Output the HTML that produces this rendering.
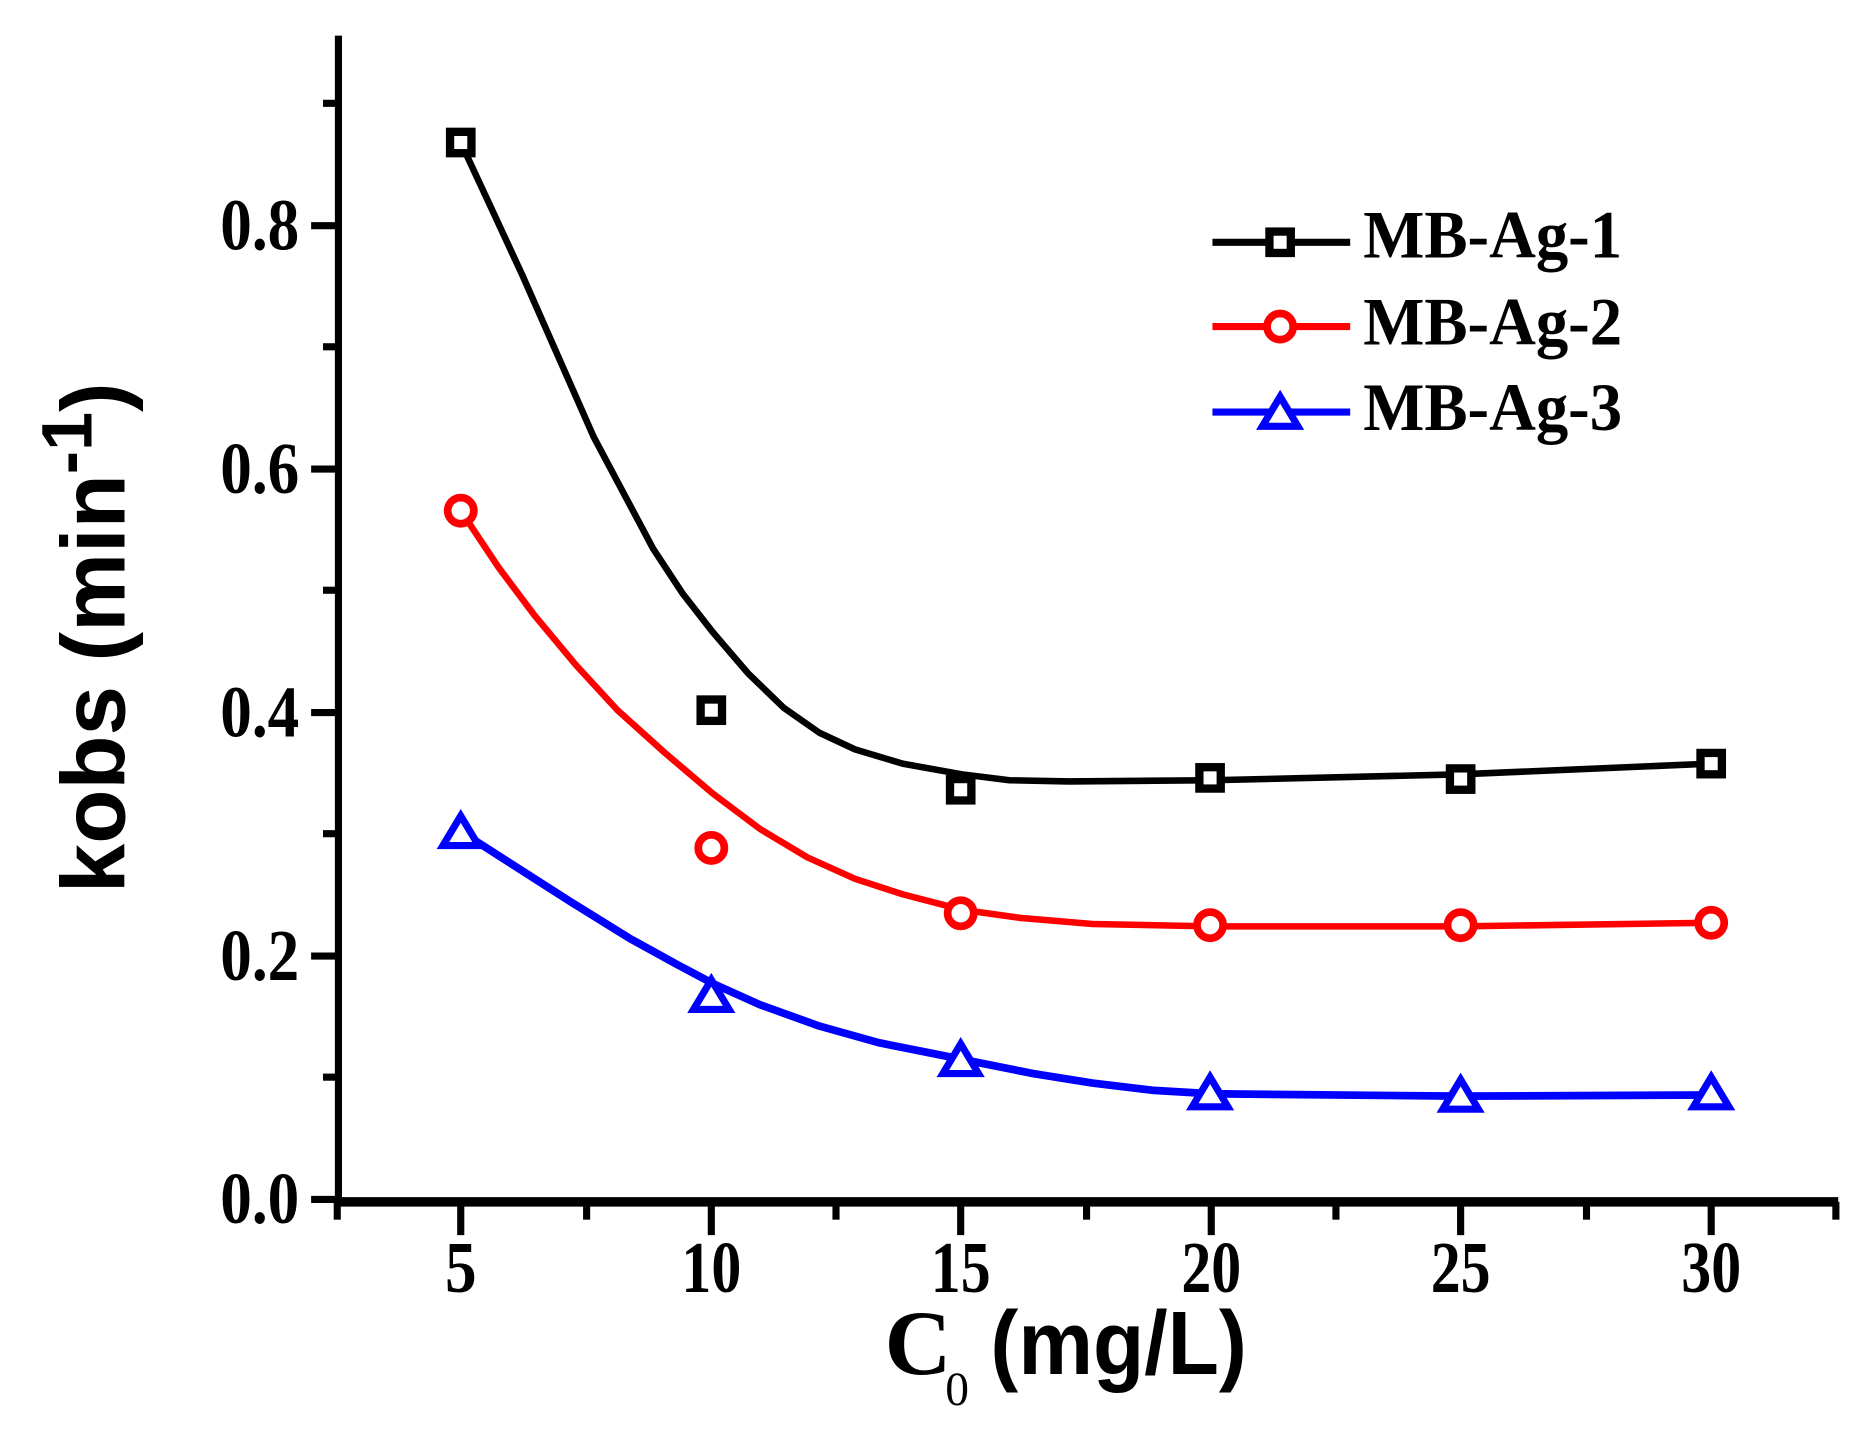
<!DOCTYPE html>
<html><head><meta charset="utf-8"><style>html,body{margin:0;padding:0;background:#fff}svg{display:block}</style></head>
<body>
<svg width="1862" height="1437" viewBox="0 0 1568 1210" preserveAspectRatio="none" xmlns="http://www.w3.org/2000/svg">
<rect width="1568" height="1210" fill="#fff"/>
<g stroke="#000" stroke-width="6" fill="none">
<line x1="285" y1="30" x2="285" y2="1013"/>
<line x1="282" y1="1012" x2="1548" y2="1012" stroke-width="8"/>
<line x1="262" y1="1010" x2="285" y2="1010"/>
<line x1="262" y1="805" x2="285" y2="805"/>
<line x1="262" y1="600" x2="285" y2="600"/>
<line x1="262" y1="395" x2="285" y2="395"/>
<line x1="262" y1="190" x2="285" y2="190"/>
<line x1="272" y1="907" x2="285" y2="907"/>
<line x1="272" y1="702" x2="285" y2="702"/>
<line x1="272" y1="497" x2="285" y2="497"/>
<line x1="272" y1="292" x2="285" y2="292"/>
<line x1="272" y1="87" x2="285" y2="87"/>
<line x1="388" y1="1012" x2="388" y2="1040"/>
<line x1="599" y1="1012" x2="599" y2="1040"/>
<line x1="809" y1="1012" x2="809" y2="1040"/>
<line x1="1020" y1="1012" x2="1020" y2="1040"/>
<line x1="1230" y1="1012" x2="1230" y2="1040"/>
<line x1="1441" y1="1012" x2="1441" y2="1040"/>
<line x1="284" y1="1012" x2="284" y2="1027"/>
<line x1="494" y1="1012" x2="494" y2="1027"/>
<line x1="704" y1="1012" x2="704" y2="1027"/>
<line x1="915" y1="1012" x2="915" y2="1027"/>
<line x1="1125" y1="1012" x2="1125" y2="1027"/>
<line x1="1336" y1="1012" x2="1336" y2="1027"/>
<line x1="1546" y1="1012" x2="1546" y2="1027"/>
</g>
<g font-family="Liberation Serif, serif" font-weight="bold" font-size="56" fill="#000">
<text transform="translate(252,1030) scale(0.95,1.1)" text-anchor="end">0.0</text>
<text transform="translate(252,825) scale(0.95,1.1)" text-anchor="end">0.2</text>
<text transform="translate(252,620) scale(0.95,1.1)" text-anchor="end">0.4</text>
<text transform="translate(252,415) scale(0.95,1.1)" text-anchor="end">0.6</text>
<text transform="translate(252,210) scale(0.95,1.1)" text-anchor="end">0.8</text>
<text transform="translate(388,1088) scale(0.95,1.1)" text-anchor="middle">5</text>
<text transform="translate(599,1088) scale(0.9,1.1)" text-anchor="middle">10</text>
<text transform="translate(809,1088) scale(0.9,1.1)" text-anchor="middle">15</text>
<text transform="translate(1020,1088) scale(0.9,1.1)" text-anchor="middle">20</text>
<text transform="translate(1230,1088) scale(0.9,1.1)" text-anchor="middle">25</text>
<text transform="translate(1441,1088) scale(0.9,1.1)" text-anchor="middle">30</text>
</g>
<text x="745" y="1157" font-family="Liberation Serif, serif" font-weight="bold" font-size="78">C</text>
<text x="796" y="1183" font-family="Liberation Serif, serif" font-size="40">0</text>
<text x="834" y="1157" font-family="Liberation Sans, sans-serif" font-weight="bold" font-size="76" textLength="216" lengthAdjust="spacingAndGlyphs">(mg/L)</text>
<text transform="translate(105,752) rotate(-90)" font-family="Liberation Sans, sans-serif" font-weight="bold" font-size="76" textLength="430" lengthAdjust="spacingAndGlyphs">kobs (min<tspan dy="-28" font-size="60">-1</tspan><tspan dy="28">)</tspan></text>
<g fill="none" stroke-width="5.5" stroke-linejoin="round" stroke-linecap="round">
<polyline stroke="#000" points="388,120 415,178 440,232 470,300 500,368 525,415 550,462 575,500 600,532 630,567 660,596 690,617 720,631 760,643 810,652 850,657 900,658 1020,657 1230,652 1441,643"/>
<polyline stroke="#f00" points="388,430 420,478 450,518 485,560 520,598 560,634 600,668 640,698 680,722 720,740 760,753 810,766 860,773 920,778 1020,780 1230,780 1441,777"/>
<polyline stroke="#00f" stroke-width="6.5" points="388,700 430,727 480,759 530,790 570,812 600,828 640,846 690,864 740,878 780,886 820,894 870,904 920,912 970,918 1020,921 1230,923 1441,922"/>
</g>
<g fill="#fff" stroke="#000" stroke-width="7">
<rect x="379" y="111" width="18" height="18"/>
<rect x="590" y="589" width="18" height="18"/>
<rect x="800" y="656" width="18" height="18"/>
<rect x="1010" y="646" width="18" height="18"/>
<rect x="1221" y="647" width="18" height="18"/>
<rect x="1432" y="634" width="18" height="18"/>
</g>
<g fill="#fff" stroke="#f00" stroke-width="6.5">
<circle cx="388" cy="430" r="11"/>
<circle cx="599" cy="714" r="11"/>
<circle cx="809" cy="769" r="11"/>
<circle cx="1019" cy="779" r="11"/>
<circle cx="1230" cy="779" r="11"/>
<circle cx="1441" cy="777" r="11"/>
</g>
<g fill="#fff" stroke="#00f" stroke-width="6">
<polygon points="388,687 373,712 403,712"/>
<polygon points="599,825 584,850 614,850"/>
<polygon points="809,879 794,904 824,904"/>
<polygon points="1019,907 1004,932 1034,932"/>
<polygon points="1230,909 1215,934 1245,934"/>
<polygon points="1441,907 1426,932 1456,932"/>
</g>
<g stroke-width="6">
<line x1="1021" y1="204" x2="1137" y2="204" stroke="#000"/>
<line x1="1021" y1="275" x2="1137" y2="275" stroke="#f00"/>
<line x1="1021" y1="347" x2="1137" y2="347" stroke="#00f"/>
</g>
<rect x="1069" y="195" width="18" height="18" fill="#fff" stroke="#000" stroke-width="7"/>
<circle cx="1078" cy="275" r="11" fill="#fff" stroke="#f00" stroke-width="6.5"/>
<polygon points="1078,334 1063,359 1093,359" fill="#fff" stroke="#00f" stroke-width="6"/>
<g font-family="Liberation Serif, serif" font-weight="bold" font-size="57" fill="#000">
<text x="1148" y="217" textLength="218" lengthAdjust="spacingAndGlyphs">MB-Ag-1</text>
<text x="1148" y="290" textLength="218" lengthAdjust="spacingAndGlyphs">MB-Ag-2</text>
<text x="1148" y="362" textLength="218" lengthAdjust="spacingAndGlyphs">MB-Ag-3</text>
</g>
</svg>
</body></html>
